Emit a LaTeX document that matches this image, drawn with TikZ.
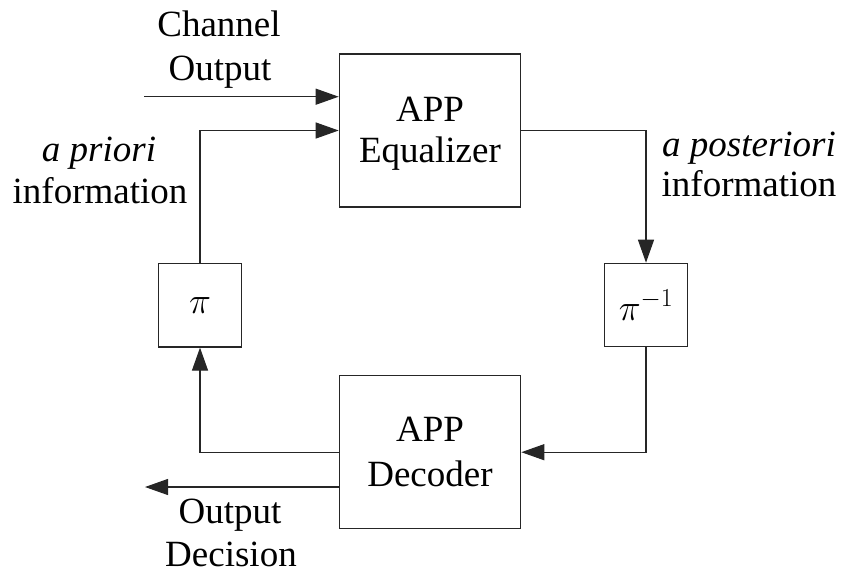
\RequirePackage{fix-cm}
\documentclass[tikz,border=0pt]{standalone}
\usepackage{fontspec}
\setmainfont{Liberation Serif}
\usetikzlibrary{arrows.meta}
\begin{document}
\begin{tikzpicture}[x=1pt,y=-1pt,
  blk/.style={draw=black!85, line width=1.2pt, rectangle, inner sep=0pt},
  bigblk/.style={blk, minimum width=181.4pt, minimum height=153pt},
  smallblk/.style={blk, minimum width=83.4pt, minimum height=83.4pt, font=\fontsize{37}{41}\selectfont},
  txt/.style={inner sep=0pt, anchor=base, font=\fontsize{37}{41}\selectfont},
  conn/.style={draw=black!85, line width=1.2pt},
  arr/.style={conn, -{Triangle[length=23pt,width=16pt]}}]
\useasboundingbox (0,0) rectangle (842,573);
% blocks
\node[bigblk] (eq) at (430,130.5) {};
\node[bigblk] (dec) at (430,452.2) {};
\node[smallblk] (pi) at (200,305.3) {$\pi$};
\node[smallblk] (pinv) at (646,305) {$\pi^{-1}$};
% block texts
\node[txt] (eqA) at (430,121) {APP};
\node[txt] (eqB) at (430,162.3) {Equalizer};
\node[txt] (decA) at (430,441) {APP};
\node[txt] (decB) at (430,486) {Decoder};
% labels
\node[txt] (chA) at (219,36) {Channel};
\node[txt] (chB) at (220,80) {Output};
\node[txt] (apA) at (99,161.7) {\itshape a priori};
\node[txt] (apB) at (100,203) {information};
\node[txt] (aposA) at (749,156.7) {\itshape a posteriori};
\node[txt] (aposB) at (749,196.7) {information};
\node[txt] (odA) at (230,523) {Output};
\node[txt] (odB) at (231,566) {Decision};
% connectors
\coordinate (chin) at (144,96.7);
\coordinate (outd) at (145,487);
\draw[arr] (chin) -- (chin -| eq.west);
\draw[arr] (pi.north) |- (eq.west);
\draw[arr] (eq.east) -| (pinv.north);
\draw[arr] (pinv.south) |- (dec.east);
\draw[arr] (dec.west) -| (pi.south);
\draw[arr] (dec.west |- outd) -- (outd);
\end{tikzpicture}
\end{document}
